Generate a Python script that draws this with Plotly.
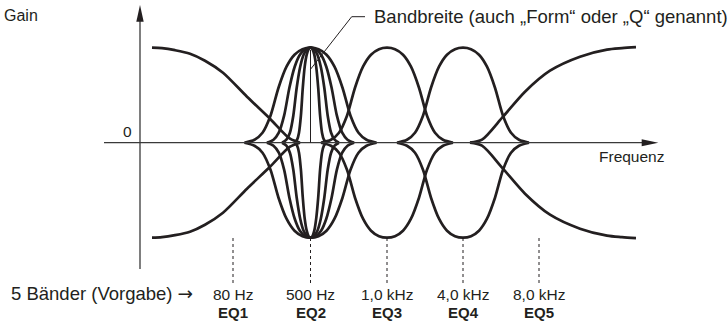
import plotly.graph_objects as go

# --- values (x in px-like units, gain in px-like units, 0 = axis) ---
# low shelf (EQ1)
low_shelf_x = [152, 162, 175, 190, 205, 223, 247, 270, 290, 300]
low_shelf_gain = [95, 94.5, 92.5, 89, 82, 70, 46, 24, 4, 0]

# high shelf (EQ5)
high_shelf_x = [470, 482, 503, 525, 550, 580, 607, 622, 636]
high_shelf_gain = [0, 3, 26, 51, 72, 86, 93, 94.5, 95.5]

# bell shape gain (same for every peaking band)
bell_gain = [0, 3, 10, 27, 55, 76, 88, 93.5, 95, 93.5, 88, 76, 55, 27, 10, 3, 0]

# EQ2 with four bandwidths
eq2_wide_x = [244.5, 254.5, 262.5, 270.5, 278.5, 286.5, 294.5, 302.5, 310.5,
              318.5, 326.5, 334.5, 342.5, 350.5, 358.5, 366.5, 376.5]
eq2_mid_x = [266.9, 273.5, 278.8, 284.1, 289.4, 294.7, 299.9, 305.2, 310.5,
             315.8, 321.1, 326.3, 331.6, 336.9, 342.2, 347.5, 354.1]
eq2_narrow_x = [282.1, 286.4, 289.9, 293.3, 296.7, 300.2, 303.6, 307.1, 310.5,
                313.9, 317.4, 320.8, 324.3, 327.7, 331.1, 334.6, 338.9]
eq2_tight_x = [294.7, 297.1, 299.0, 300.9, 302.8, 304.7, 306.7, 308.6, 310.5,
               312.4, 314.3, 316.2, 318.2, 320.1, 322.0, 323.9, 326.3]

# EQ3 / EQ4
eq3_x = [321, 331, 339, 347, 355, 363, 371, 379, 387, 395, 403, 411, 419, 427, 435, 443, 453]
eq4_x = [397, 407, 415, 423, 431, 439, 447, 455, 463, 471, 479, 487, 495, 503, 511, 519, 529]

# band markers and labels
band_x = [233, 310.5, 387, 463, 539]
band_freqs = ["80 Hz", "500 Hz", "1,0 kHz", "4,0 kHz", "8,0 kHz"]
band_names = ["EQ1", "EQ2", "EQ3", "EQ4", "EQ5"]

INK = "#231f20"
AXIS = "#3a3a3a"
FONT = "Liberation Sans, Arial, sans-serif"
Y0 = 142.7  # pixel row of the zero line


def py(row):
    # pixel row -> gain units
    return Y0 - row


fig = go.Figure()

curves = [
    (low_shelf_x, low_shelf_gain),
    (high_shelf_x, high_shelf_gain),
    (eq2_wide_x, bell_gain),
    (eq2_mid_x, bell_gain),
    (eq2_narrow_x, bell_gain),
    (eq2_tight_x, bell_gain),
    (eq3_x, bell_gain),
    (eq4_x, bell_gain),
]

# boost and cut versions of each curve
for xs, gs in curves:
    for sign in (1, -1):
        fig.add_trace(go.Scatter(
            x=xs, y=[sign * g for g in gs],
            mode="lines",
            line=dict(color=INK, width=2.7, shape="spline", smoothing=0.8),
            hoverinfo="skip", showlegend=False,
        ))

# dotted band markers
for bx in band_x:
    fig.add_trace(go.Scatter(
        x=[bx, bx], y=[py(238), py(283)],
        mode="lines",
        line=dict(color=INK, width=1, dash="dot"),
        hoverinfo="skip", showlegend=False,
    ))

shapes = [
    # axes
    dict(type="line", x0=104, x1=645, y0=0, y1=0, line=dict(color=AXIS, width=1.3)),
    dict(type="path", path=f"M 641.7 {py(139.2)} L 658.3 0 L 641.7 {py(146.2)} Z",
         fillcolor=INK, line=dict(width=0)),
    dict(type="line", x0=140, x1=140, y0=py(269), y1=py(20), line=dict(color=AXIS, width=1.3)),
    dict(type="path", path=f"M 136.3 {py(21.7)} L 140 {py(5)} L 143.7 {py(21.7)} Z",
         fillcolor=INK, line=dict(width=0)),
    # bandwidth pointer
    dict(type="line", x0=310.5, x1=310.5, y0=py(50), y1=0, line=dict(color=INK, width=1)),
    dict(type="path", path=f"M 310.5 {py(69.3)} L 351.7 {py(16.7)} L 365 {py(16.7)}",
         line=dict(color=INK, width=1)),
]

annotations = [
    dict(x=40, y=py(15.3), text="Gain", xanchor="right", font=dict(size=16)),
    dict(x=134, y=py(131.3), text="0", xanchor="right", font=dict(size=15.5)),
    dict(x=597, y=py(156.5), text="Frequenz", xanchor="left", font=dict(size=15.5)),
    dict(x=372, y=py(16.4), text="Bandbreite (auch „Form“ oder „Q“ genannt)",
         xanchor="left", font=dict(size=18.5)),
    dict(x=9, y=py(293), xanchor="left", font=dict(size=18.5),
         text="5 Bänder (Vorgabe) <span style='font-family:DejaVu Sans'>→</span>"),
]
for bx, f, n in zip(band_x, band_freqs, band_names):
    annotations.append(dict(x=bx, y=py(294.3), text=f, xanchor="center", font=dict(size=15.5)))
    annotations.append(dict(x=bx, y=py(312), text=f"<b>{n}</b>", xanchor="center", font=dict(size=15)))

for a in annotations:
    a.update(xref="x", yref="y", yanchor="middle", showarrow=False)
    a["font"].update(family=FONT, color=INK)

fig.update_layout(
    width=728, height=321,
    margin=dict(l=0, r=0, t=0, b=0),
    paper_bgcolor="white", plot_bgcolor="white",
    xaxis=dict(range=[0, 728], visible=False, fixedrange=True),
    yaxis=dict(range=[py(321), py(0)], visible=False, fixedrange=True),
    shapes=shapes,
    annotations=annotations,
    showlegend=False,
)

# page body has a default 8px margin; drop it so the figure sits at the window corner
fig.write_html("out.html", post_script="document.body.style.margin='0';",
               config={"displayModeBar": False})
